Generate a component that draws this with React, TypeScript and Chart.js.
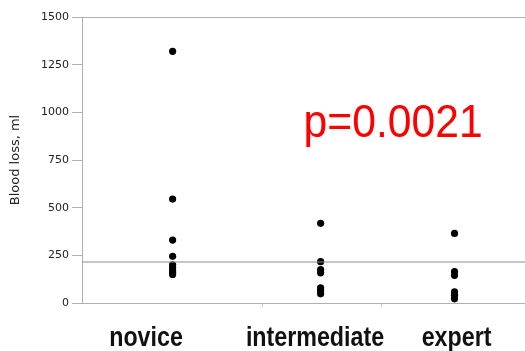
import React, { useEffect, useRef } from "react";
import { Chart, registerables } from "chart.js";

Chart.register(...registerables);

// Categories and their positions on a linear x axis (widths follow group sizes)
const categories = ["novice", "intermediate", "expert"];
const categoryX = [4.5, 11.85, 18.5];
const labelX = [3.18, 11.57, 18.6];
const boundaryX = [8.94, 14.85];
const xMin = 0;
const xMax = 22;

// Blood loss values (ml)
const novice = [1320, 545, 330, 245, 200, 185, 170, 160, 150];
const intermediate = [418, 217, 175, 158, 80, 65, 48];
const expert = [365, 165, 145, 58, 40, 22];
const groups = [novice, intermediate, expert];

const grandMean = 215;
const yTicksMax = 1500;
const yStep = 250;
const pText = "p=0.0021";

export default function App() {
  const ref = useRef<HTMLCanvasElement | null>(null);

  useEffect(() => {
    document.body.style.margin = "0";
    const canvas = ref.current;
    if (!canvas) return;

    const points: { x: number; y: number }[] = [];
    groups.forEach((g, i) => g.forEach((v) => points.push({ x: categoryX[i], y: v })));

    const textPlugin = {
      id: "texts",
      afterDraw(chart: any) {
        const ctx = chart.ctx;
        const xs = chart.scales.x;
        const ys = chart.scales.y;
        ctx.save();
        // p-value annotation
        ctx.fillStyle = "#ff0000";
        ctx.font = '46px "Liberation Sans", Arial, sans-serif';
        ctx.textAlign = "center";
        ctx.textBaseline = "alphabetic";
        ctx.fillText(pText, xs.getPixelForValue(15.45), ys.getPixelForValue(873), 179);
        // category labels (condensed bold)
        ctx.fillStyle = "#111";
        ctx.font = 'bold 28px "Liberation Sans", Arial, sans-serif';
        const base = ys.getPixelForValue(0) + 43;
        categories.forEach((c, i) => {
          const w = ctx.measureText(c).width * 0.83;
          ctx.fillText(c, xs.getPixelForValue(labelX[i]), base, w);
        });
        ctx.restore();
      },
    };

    const chart = new Chart(canvas, {
      type: "scatter",
      data: {
        datasets: [
          {
            type: "line",
            data: [
              { x: xMin, y: grandMean },
              { x: xMax, y: grandMean },
            ],
            borderColor: "#8c8c8c",
            borderWidth: 1,
            pointRadius: 0,
            fill: false,
          } as any,
          {
            data: points,
            backgroundColor: "#000",
            borderColor: "#000",
            borderWidth: 0,
            pointRadius: 3.6,
          },
        ],
      },
      options: {
        animation: false,
        responsive: false,
        maintainAspectRatio: false,
        layout: { autoPadding: false, padding: { top: 17, right: 0, left: 0, bottom: 0 } },
        plugins: { legend: { display: false }, tooltip: { enabled: false } },
        scales: {
          x: {
            type: "linear",
            min: xMin,
            max: xMax,
            afterBuildTicks: (scale: any) => {
              scale.ticks = boundaryX.map((v) => ({ value: v }));
            },
            afterFit: (scale: any) => {
              scale.height = 48;
            },
            ticks: {
              autoSkip: false,
              maxRotation: 0,
              callback: () => "",
            },
            grid: {
              drawOnChartArea: false,
              tickLength: 4,
              color: "#c8c8c8",
            },
            border: { display: true, color: "#b0b0b0" },
          },
          y: {
            min: 0,
            max: yTicksMax,
            afterFit: (scale: any) => {
              scale.width = 82;
            },
            ticks: {
              stepSize: yStep,
              padding: 3,
              color: "#222",
              font: { family: '"DejaVu Sans", Verdana, sans-serif', size: 11 },
              callback: (value: any) => String(value),
            },
            grid: {
              drawOnChartArea: true,
              tickLength: 10,
              color: (ctx: any) =>
                ctx.tick && (ctx.tick.value === 0 || ctx.tick.value === yTicksMax)
                  ? "#b0b0b0"
                  : "rgba(0,0,0,0)",
              tickColor: "#b0b0b0",
            },
            border: { display: true, color: "#b0b0b0" },
            title: {
              display: true,
              text: "Blood loss, ml",
              color: "#222",
              font: { family: '"DejaVu Sans", Verdana, sans-serif', size: 13 },
              padding: { top: 8, bottom: 0 },
            },
          },
        },
      },
      plugins: [textPlugin],
    });

    return () => chart.destroy();
  }, []);

  return (
    <div style={{ width: 525, height: 351 }}>
      <canvas ref={ref} width={525} height={351} style={{ display: "block" }} />
    </div>
  );
}
